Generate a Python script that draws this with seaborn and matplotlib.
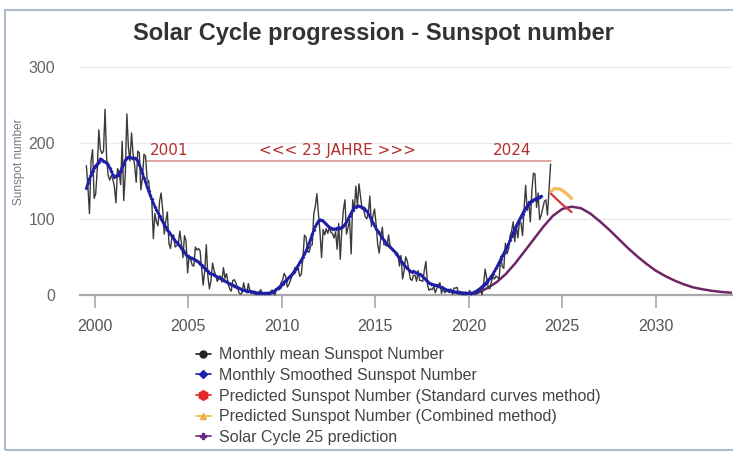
import numpy as np
import pandas as pd
import matplotlib
matplotlib.use("Agg")
import matplotlib.pyplot as plt
import seaborn as sns
from matplotlib.lines import Line2D
from matplotlib.patches import Rectangle

# monthly mean sunspot number, Jul 1999 .. May 2024
monthly_mean = {
    1999: [170, 142, 107, 176, 191, 127],
    2000: [133, 165, 217, 191, 186, 189, 244, 180, 157, 151, 157, 152],
    2001: [142, 121, 166, 162, 145, 202, 124, 160, 238, 194, 176, 213],
    2002: [185, 170, 148, 189, 187, 138, 154, 185, 182, 152, 150, 129],
    2003: [124, 74, 107, 96, 91, 123, 134, 112, 80, 97, 109, 68],
    2004: [61, 77, 79, 63, 65, 66, 84, 69, 49, 78, 71, 29],
    2005: [52, 46, 39, 38, 63, 59, 61, 58, 36, 13, 32, 66],
    2006: [25, 8, 19, 42, 32, 26, 18, 21, 25, 17, 36, 22],
    2007: [28, 15, 8, 5, 19, 20, 16, 10, 3, 1, 3, 16],
    2008: [5, 3, 15, 4, 5, 5, 1, 1, 2, 4, 7, 1],
    2009: [1.3, 1.2, 0.6, 1.2, 2.9, 6.3, 5.5, 0, 7.1, 7.7, 6.9, 16.3],
    2010: [19.6, 28.5, 24, 10.4, 13.9, 18.8, 25.2, 29.6, 36.4, 33.6, 34.4, 24.5],
    2011: [27.3, 48.3, 78.6, 76.1, 58.2, 56.1, 64.5, 65.8, 106.4, 116.4, 133.1, 106.3],
    2012: [82, 49, 86, 79, 87, 81, 89, 82, 81, 75, 83, 60],
    2013: [94, 47, 86, 112, 125, 80, 89, 98, 54, 125, 110, 143],
    2014: [117, 146, 129, 113, 112, 103, 100, 107, 130, 90, 104, 113],
    2015: [93, 67, 55, 75, 89, 66, 66, 64, 79, 64, 62, 58],
    2016: [57, 56, 54, 38, 52, 21, 32, 50, 45, 33, 21, 19],
    2017: [26, 26, 18, 32, 19, 19, 18, 33, 44, 13, 6, 8],
    2018: [7, 11, 3, 9, 13, 16, 2, 9, 3, 5, 5, 3],
    2019: [8, 1, 9, 9, 10, 1, 1, 0.5, 1, 0.4, 0.5, 1.5],
    2020: [6, 0.2, 1.5, 5, 0.2, 6, 6, 7.5, 0.6, 14, 34, 22],
    2021: [10, 8, 17, 24, 21, 25, 23, 21, 51, 37, 35, 68],
    2022: [54, 60, 78, 84, 96, 70, 91, 75, 96, 95, 78, 113],
    2023: [144, 111, 123, 96, 137, 160, 159, 115, 134, 99, 105, 114],
    2024: [123, 125, 105, 137, 172],
}

# 13-month smoothed, Jul 1999 .. Nov 2023
smoothed = {
    1999: [140, 147, 153, 158, 163, 167],
    2000: [170, 172, 175, 179, 178, 176, 175, 174, 171, 167, 163, 158],
    2001: [155, 156, 158, 160, 163, 168, 172, 177, 180, 181, 181, 180],
    2002: [180, 180, 179, 176, 171, 166, 160, 154, 148, 142, 136, 131],
    2003: [126, 121, 116, 112, 108, 104, 100, 96, 92, 89, 86, 83],
    2004: [80, 77, 74, 71, 69, 67, 64, 62, 59, 56, 53, 51],
    2005: [50, 49, 48, 47, 46, 45, 43, 41, 39, 37, 35, 33],
    2006: [31, 29, 28, 27, 26, 25, 24, 23, 22, 21, 20, 18],
    2007: [17, 16, 15, 14, 13, 12, 11, 10, 9, 8, 7, 6],
    2008: [6, 5, 5, 5, 4, 4, 4, 3, 3, 3, 3, 2.5],
    2009: [2.2, 2.3, 2.5, 2.7, 3, 3.5, 4.5, 6, 7.5, 9, 11, 13],
    2010: [15, 17, 19, 21, 23, 25, 27, 30, 33, 36, 39, 43],
    2011: [46, 50, 54, 58, 63, 68, 74, 80, 85, 90, 94, 97],
    2012: [99, 98, 97, 95, 93, 91, 89, 88, 87, 87, 87, 88],
    2013: [88, 88, 89, 90, 93, 96, 100, 104, 108, 112, 115, 116],
    2014: [117, 117, 116, 115, 114, 112, 110, 107, 103, 99, 95, 91],
    2015: [87, 84, 81, 78, 75, 72, 69, 67, 65, 63, 61, 59],
    2016: [57, 54, 51, 48, 45, 42, 39, 37, 35, 33, 31, 30],
    2017: [31, 30, 29, 28, 27, 26, 24, 22, 20, 18, 16, 15],
    2018: [14, 13.5, 13, 12.5, 12, 11, 10, 9, 8, 7, 6.5, 6],
    2019: [5, 4.8, 4.5, 4.2, 4, 3.5, 3.3, 3, 2.9, 2.8, 2.8, 2.0],
    2020: [2.0, 2.5, 3, 3.5, 4.5, 6, 7.5, 9, 11, 13, 15, 17],
    2021: [20, 22, 25, 28, 31, 35, 39, 43, 47, 51, 55, 59],
    2022: [63, 67, 72, 77, 82, 87, 91, 95, 99, 103, 107, 111],
    2023: [114, 117, 120, 122, 124, 125, 126, 127, 128, 129, 130],
}

pred_std_year = [2024.4, 2024.7, 2025.0, 2025.3, 2025.5]
pred_std_val = [133, 126, 119, 113, 109]

pred_comb_year = [2024.4, 2024.6, 2024.9, 2025.2, 2025.5]
pred_comb_val = [136, 140, 139, 134, 127]

sc25_year = [2019.9, 2020.5, 2021.0, 2021.5, 2022.0, 2022.5, 2023.0, 2023.5,
             2024.0, 2024.5, 2025.0, 2025.5, 2026.0, 2026.5, 2027.0, 2027.5,
             2028.0, 2028.5, 2029.0, 2029.5, 2030.0, 2030.5, 2031.0, 2031.5,
             2032.0, 2032.5, 2033.0, 2033.5, 2034.0, 2034.3]
sc25_val = [0, 3, 9, 17, 28, 42, 58, 74, 90, 104, 113, 116, 114, 107, 97, 86,
            74, 62, 51, 41, 32, 25, 19, 14, 10, 7.5, 5.5, 4, 3, 2.5]


def to_frame(d, first_month):
    rows = []
    for yr, vals in d.items():
        m0 = first_month if yr == min(d) else 1
        for i, v in enumerate(vals):
            rows.append((yr + (m0 + i - 0.5) / 12.0, v))
    return pd.DataFrame(rows, columns=["year", "ssn"])


mean_df = to_frame(monthly_mean, 7)
smooth_df = to_frame(smoothed, 7)

sns.set_theme(style="white")
plt.rcParams["font.family"] = ["Liberation Sans", "DejaVu Sans"]

fig = plt.figure(figsize=(7.33, 4.53), dpi=100)
ax = fig.add_axes([0.1091, 0.3455, 0.890, 0.5325])

for y in [100, 200, 300]:
    ax.axhline(y, color="#ececec", lw=1, zorder=0)

sns.lineplot(data=mean_df, x="year", y="ssn", ax=ax, color="#3a3a3a", lw=1.0,
             estimator=None, sort=False, zorder=3)
sns.lineplot(data=smooth_df, x="year", y="ssn", ax=ax, color="#1f1fa6", lw=1.8,
             marker="D", markersize=2, markeredgewidth=0,
             estimator=None, sort=False, zorder=4)
sns.lineplot(x=sc25_year, y=sc25_val, ax=ax, color="#6e2566", lw=1.8, zorder=2)
sns.lineplot(x=pred_std_year, y=pred_std_val, ax=ax, color="#d23a3a", lw=1.6, zorder=5)
sns.lineplot(x=pred_comb_year, y=pred_comb_val, ax=ax, color="#f5b041", lw=2.4,
             alpha=0.85, zorder=6)

# annotation: 2001 ... 2024
ax.plot([2002.8, 2024.4], [176, 176], color="#d98c86", lw=1.1, zorder=1)
txt = dict(color="#b3302c", fontsize=11, family="DejaVu Sans", va="center")
ax.text(2002.95, 190, "2001", ha="left", **txt)
ax.text(2013.0, 190, "<<< 23 JAHRE >>>", ha="center", **txt)
ax.text(2022.3, 190, "2024", ha="center", **txt)

ax.set_xlim(1999.2, 2034.1)
ax.set_ylim(-2, 315)
ax.set_xticks([2000, 2005, 2010, 2015, 2020, 2025, 2030])
ax.set_yticks([0, 100, 200, 300])
for s in ["top", "right", "left"]:
    ax.spines[s].set_visible(False)
ax.spines["bottom"].set_position(("data", 0))
ax.spines["bottom"].set_color("#a8a8a8")
ax.spines["bottom"].set_linewidth(1.6)
ax.tick_params(axis="x", direction="out", length=9, width=1.2, color="#a8a8a8",
               labelsize=11.5, labelcolor="#555555", pad=8, bottom=True)
ax.tick_params(axis="y", length=0, labelsize=11.5, labelcolor="#666666", pad=18)
ax.set_xlabel("")
ax.set_ylabel("Sunspot number", fontsize=8.5, color="#777777")
ax.yaxis.set_label_coords(-0.085, 0.56)

fig.text(0.509, 0.927, "Solar Cycle progression - Sunspot number",
         ha="center", va="center", fontsize=17, fontweight="bold", color="#333333")

handles = [
    Line2D([], [], color="#222222", marker="o", markersize=5, lw=1.2),
    Line2D([], [], color="#2020b0", marker="D", markersize=4, lw=1.2),
    Line2D([], [], color="#e02a2a", marker="h", markersize=7, lw=1.2),
    Line2D([], [], color="#f0b040", marker="^", markersize=5, lw=1.2),
    Line2D([], [], color="#6a2a80", marker="P", markersize=5, lw=1.2),
]
labels = [
    "Monthly mean Sunspot Number",
    "Monthly Smoothed Sunspot Number",
    "Predicted Sunspot Number (Standard curves method)",
    "Predicted Sunspot Number (Combined method)",
    "Solar Cycle 25 prediction",
]
fig.legend(handles, labels, loc="upper left", bbox_to_anchor=(0.258, 0.247),
           frameon=False, fontsize=11.5, handlelength=1.0, handletextpad=0.5,
           labelspacing=0.35, labelcolor="#444444", borderaxespad=0)

fig.add_artist(Rectangle((5 / 733, 3 / 453), 1.0, 440 / 453, transform=fig.transFigure,
                         fill=False, ec="#aab9cc", lw=1.5))

fig.savefig("out.png", dpi=100)
